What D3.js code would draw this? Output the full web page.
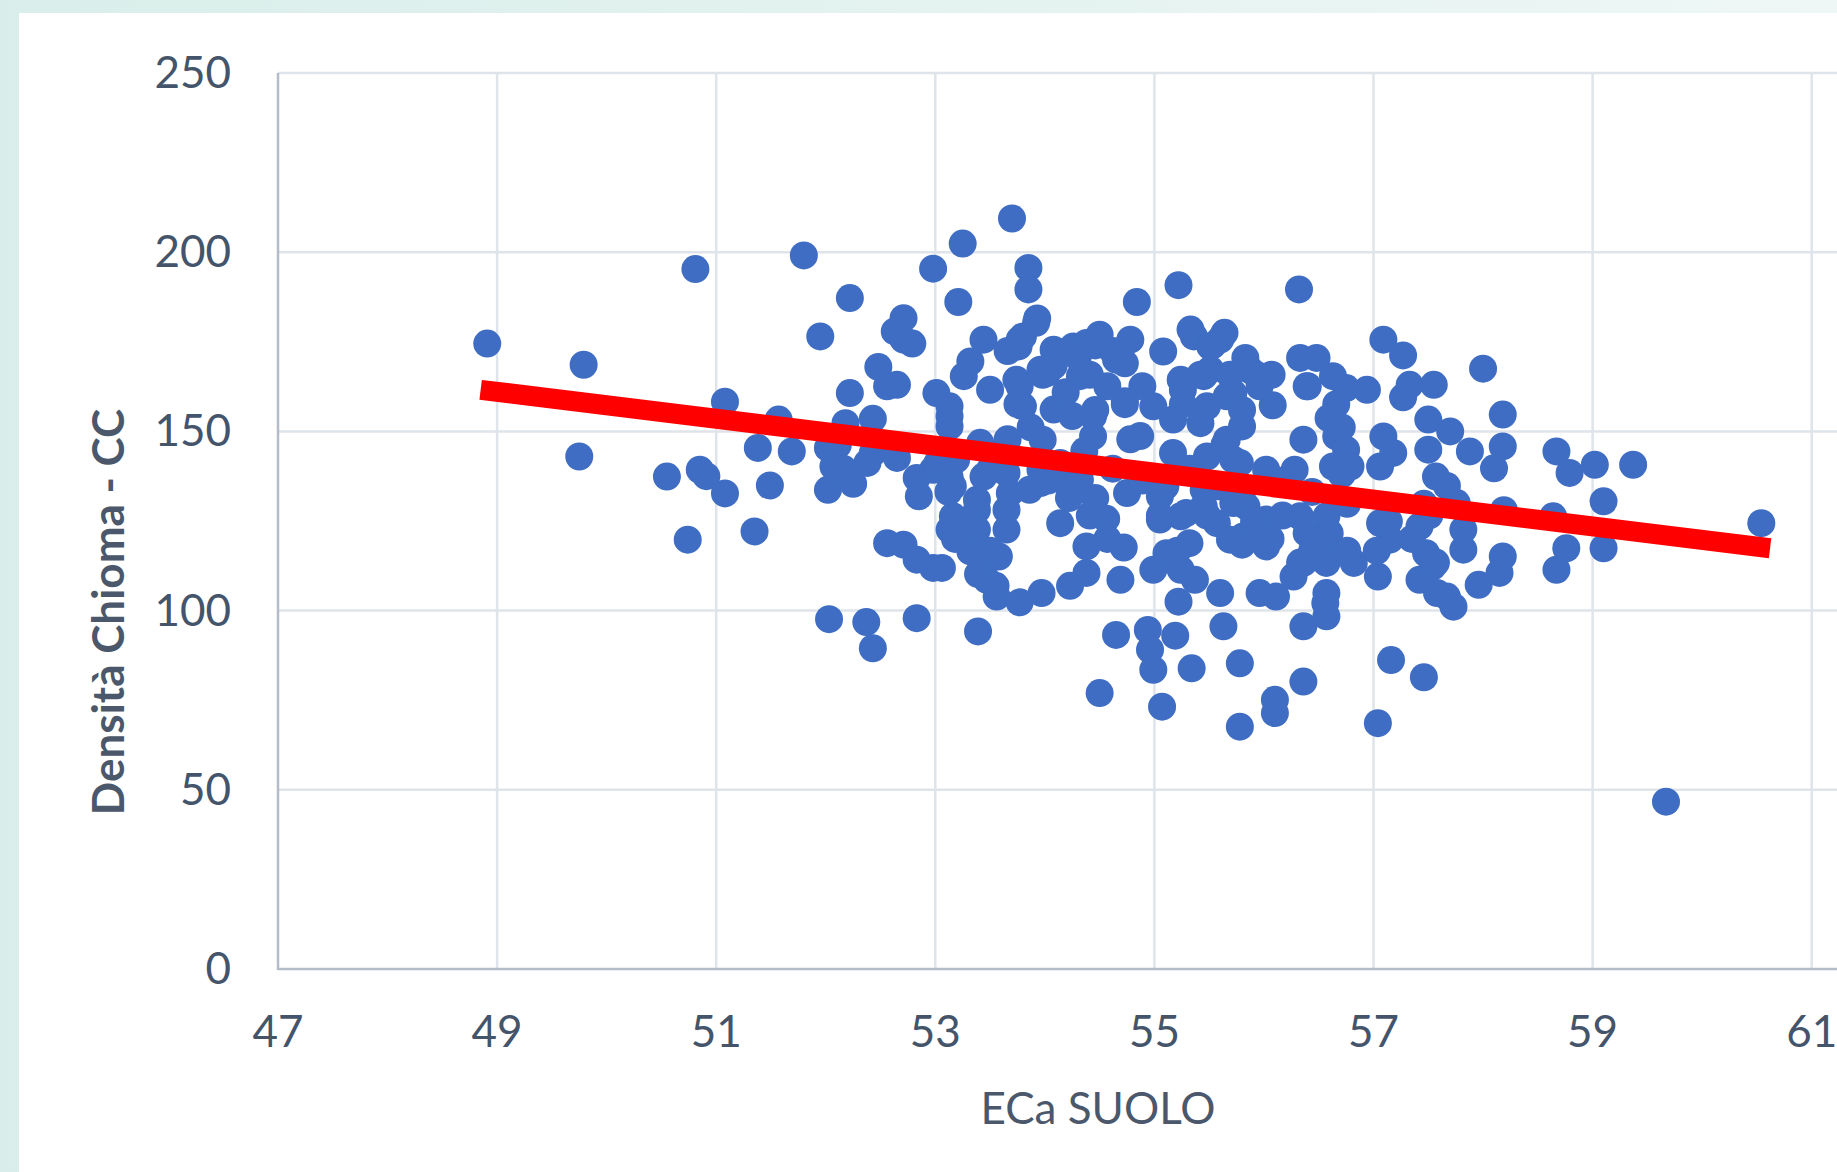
<!DOCTYPE html>
<html>
<head>
<meta charset="utf-8">
<script src="https://cdn.jsdelivr.net/npm/d3@7"></script>
<style>
  html, body { margin: 0; padding: 0; }
  body { width: 1837px; height: 1172px; overflow: hidden; }
  svg { display: block; }
  .tick-label { font-family: Lato, "Open Sans", sans-serif; font-size: 44px; fill: #44546a; }
  .axis-title { font-family: Lato, "Open Sans", sans-serif; font-size: 44px; fill: #4b586b; }
  .grid line { stroke: #dfe4eb; stroke-width: 2.5; }
  .axis-line { stroke: #b3bdca; stroke-width: 2.5; }
</style>
</head>
<body>
<svg id="chart"></svg>
<script>
// x = ECa SUOLO, y = Densità Chioma - CC
const POINTS = [
  [48.91,174.5],[49.79,168.6],[49.75,143.0],[50.55,137.4],[50.81,195.3],[50.74,119.8],[50.85,139.3],[50.91,137.5],
  [51.08,132.7],[51.08,158.3],[51.35,122.1],[51.38,145.4],[51.49,134.9],[51.57,153.3],[51.69,144.4],[51.80,199.1],
  [51.95,176.5],[52.02,145.4],[52.02,133.7],[52.03,97.6],[52.07,140.2],[52.10,139.3],[52.18,152.3],[52.22,187.2],
  [52.22,160.7],[52.25,135.4],[52.37,96.8],[52.43,89.5],[52.43,153.5],[52.43,144.0],[52.48,168.0],[52.56,162.6],
  [52.65,163.0],[52.56,118.8],[52.63,177.9],[52.65,142.6],[52.71,181.6],[52.71,175.6],[52.71,118.4],[52.79,174.5],
  [52.83,137.0],[52.83,114.2],[52.83,97.9],[52.85,131.9],[52.98,195.4],[52.98,139.3],[52.98,111.9],[53.01,160.7],
  [53.06,111.9],[53.13,154.2],[53.13,157.0],[53.13,151.4],[53.13,137.4],[53.13,122.6],[53.16,134.7],[53.16,126.3],
  [53.19,142.1],[53.21,186.1],[53.25,202.4],[53.26,165.4],[53.32,169.5],[53.32,116.5],[53.38,130.9],[53.38,128.1],
  [53.38,122.6],[53.39,94.2],[53.41,146.8],[53.44,175.6],[53.44,137.4],[53.47,108.6],[53.50,161.6],[53.50,139.3],
  [53.56,103.9],[53.58,115.1],[53.65,138.4],[53.65,128.1],[53.65,122.6],[53.68,132.8],[53.70,209.4],[53.74,164.4],
  [53.76,173.7],[53.77,162.6],[53.77,102.3],[53.80,176.5],[53.80,157.0],[53.85,195.6],[53.85,189.6],[53.86,133.7],
  [53.92,180.3],[53.96,167.2],[53.96,139.3],[53.96,135.6],[53.97,104.9],[53.98,147.7],[54.02,166.3],[54.08,172.8],
  [54.08,168.3],[54.08,156.1],[54.14,124.4],[54.20,135.6],[54.23,106.9],[54.26,173.7],[54.32,165.4],[54.32,136.5],
  [54.38,174.7],[54.38,117.9],[54.38,110.5],[54.44,154.2],[54.44,148.6],[54.50,177.0],[54.50,77.0],[54.56,125.6],
  [54.65,170.0],[54.65,93.2],[54.69,108.6],[54.72,117.6],[54.73,158.4],[54.75,132.8],[54.84,186.1],[54.87,148.7],
  [54.94,94.6],[54.96,89.1],[54.99,157.0],[54.99,111.4],[54.99,83.5],[55.05,131.9],[55.05,125.4],[55.07,73.2],
  [55.08,172.3],[55.11,116.0],[55.17,153.3],[55.17,144.0],[55.19,93.0],[55.22,190.8],[55.22,102.5],[55.24,164.4],
  [55.24,111.4],[55.24,126.3],[55.26,161.6],[55.29,127.2],[55.32,118.8],[55.33,178.4],[55.34,83.9],[55.36,176.5],
  [55.42,152.3],[55.45,165.4],[55.45,133.7],[55.45,129.1],[55.48,157.0],[55.48,143.0],[55.51,173.7],[55.51,167.2],
  [55.57,124.4],[55.60,175.6],[55.60,104.9],[55.63,95.6],[55.64,177.5],[55.66,159.8],[55.66,147.7],[55.69,119.8],
  [55.72,160.7],[55.72,142.1],[55.72,130.0],[55.78,141.2],[55.78,85.3],[55.78,67.6],[55.80,151.4],[55.81,120.7],
  [55.83,170.5],[55.84,129.1],[55.87,167.2],[55.93,165.8],[55.96,104.9],[56.02,139.3],[56.02,125.4],[56.02,117.9],
  [56.07,165.8],[56.08,157.3],[56.10,75.1],[56.10,71.4],[56.11,103.9],[56.27,109.5],[56.28,139.3],[56.32,189.6],
  [56.33,170.5],[56.33,126.3],[56.36,147.7],[56.36,113.3],[56.36,95.6],[56.36,80.2],[56.39,121.6],[56.40,162.6],
  [56.48,170.5],[56.54,117.9],[56.57,126.3],[56.57,113.3],[56.57,104.9],[56.57,98.4],[56.56,102.1],[56.59,153.7],
  [56.63,165.4],[56.63,140.2],[56.66,148.6],[56.75,162.1],[56.75,144.9],[56.79,140.2],[56.82,113.3],[56.94,161.6],
  [57.04,109.5],[57.04,68.6],[57.06,140.2],[57.06,124.4],[57.09,175.6],[57.09,148.6],[57.15,119.8],[57.16,86.2],
  [57.18,144.0],[57.27,171.2],[57.27,159.5],[57.33,163.0],[57.42,123.5],[57.42,108.6],[57.46,81.4],[57.48,116.0],
  [57.50,153.3],[57.50,144.9],[57.51,126.6],[57.54,112.3],[57.55,163.0],[57.57,137.4],[57.58,104.9],[57.67,103.9],
  [57.67,134.8],[57.70,150.0],[57.73,101.1],[57.76,130.0],[57.82,122.6],[57.82,117.0],[57.88,144.4],[57.96,107.2],
  [58.00,167.5],[58.10,139.7],[58.15,110.5],[58.18,154.7],[58.18,145.8],[58.18,115.1],[58.19,128.0],[58.64,126.3],
  [58.67,144.4],[58.67,111.4],[58.76,117.4],[58.79,138.4],[59.02,140.7],[59.10,130.5],[59.10,117.4],[59.37,140.7],
  [59.67,46.7],[60.54,124.4],
  // denser core of the cloud
  [53.93,181.5],[53.77,175.6],[53.66,172.4],[54.09,172.4],[54.30,170.7],[54.46,174.0],[54.62,172.4],[54.78,175.6],
  [54.41,165.8],[54.57,162.6],[54.73,169.0],[54.14,141.2],[54.36,144.5],[54.62,139.6],[54.89,136.3],[54.03,136.3],
  [53.98,165.8],[54.19,160.9],[54.46,156.0],[54.73,157.6],[54.25,154.3],[54.78,147.8],[55.32,139.6],[55.58,134.7],
  [55.48,126.5],[55.80,133.1],[55.64,146.2],[55.26,157.6],[55.42,165.8],[55.80,156.0],[55.96,162.6],[56.12,136.3],
  [56.17,126.5],[56.71,138.0],[56.76,129.8],[56.44,133.1],[56.60,121.6],[56.33,113.4],[56.76,116.7],[56.44,116.7],
  [53.12,133.1],[53.28,124.9],[53.18,120.0],[53.50,116.7],[53.39,110.2],[53.55,106.9],[53.02,141.2],[52.11,146.2],
  [52.38,141.2],[52.16,139.6],[57.14,124.9],[57.35,120.0],[57.46,129.8],[57.57,113.4],[57.03,116.7],[56.39,162.6],
  [56.66,157.6],[56.71,151.1],[54.41,126.5],[54.57,120.0],[55.21,116.7],[55.37,108.6],
  [53.75,157.6],[53.87,151.1],[53.66,147.8],[55.10,134.7],[55.05,126.5],[55.91,124.9],[56.06,120.0],[55.80,118.4],
  [54.22,131.4],[54.46,131.4],[55.53,174.0],[55.69,165.8],[54.89,162.6],
];

// linear trend line, end points
const TREND_LINE = [[48.85, 161.6], [60.62, 117.4]];

const X_TICKS = [47, 49, 51, 53, 55, 57, 59, 61];
const Y_TICKS = [0, 50, 100, 150, 200, 250];

const X_TITLE = "ECa SUOLO";
const Y_TITLE = "Densità Chioma - CC";

function drawChart() {
  const width = 1837;
  const height = 1172;
  const plotLeft = 278;
  const plotTop = 73;
  const plotBottom = 969;
  const unitPx = 109.55;

  const svg = d3.select("#chart").attr("width", width).attr("height", height);

  // page background + white card
  const defs = svg.append("defs");
  const grad = defs.append("linearGradient").attr("id", "bg").attr("x1", 0).attr("x2", 1).attr("y1", 0).attr("y2", 0);
  grad.append("stop").attr("offset", "0%").attr("stop-color", "#d9eeea");
  grad.append("stop").attr("offset", "100%").attr("stop-color", "#eef7f5");
  svg.append("rect").attr("width", width).attr("height", height).attr("fill", "url(#bg)");
  svg.append("rect").attr("x", 19).attr("y", 13).attr("width", width - 19).attr("height", height - 13).attr("fill", "#fff");

  // domain runs past 61: the reference is cropped at its right edge
  const x = d3.scaleLinear().domain([47, 63]).range([plotLeft, plotLeft + 16 * unitPx]);
  const y = d3.scaleLinear().domain([0, 250]).range([plotBottom, plotTop]);

  // gridlines
  const grid = svg.append("g").attr("class", "grid");
  grid.selectAll("line.h").data(Y_TICKS.filter((d) => d > 0)).join("line")
    .attr("class", "h")
    .attr("x1", plotLeft).attr("x2", width)
    .attr("y1", (d) => y(d)).attr("y2", (d) => y(d));
  grid.selectAll("line.v").data(X_TICKS.filter((d) => d > 47)).join("line")
    .attr("class", "v")
    .attr("x1", (d) => x(d)).attr("x2", (d) => x(d))
    .attr("y1", plotTop).attr("y2", plotBottom);

  // axis lines
  svg.append("line").attr("class", "axis-line")
    .attr("x1", plotLeft).attr("x2", plotLeft).attr("y1", plotTop).attr("y2", plotBottom + 1);
  svg.append("line").attr("class", "axis-line")
    .attr("x1", plotLeft).attr("x2", width).attr("y1", plotBottom).attr("y2", plotBottom);

  // tick labels
  svg.append("g").selectAll("text").data(X_TICKS).join("text")
    .attr("class", "tick-label")
    .attr("x", (d) => x(d)).attr("y", plotBottom + 78)
    .attr("text-anchor", "middle")
    .text((d) => d);
  svg.append("g").selectAll("text").data(Y_TICKS).join("text")
    .attr("class", "tick-label")
    .attr("x", 231).attr("y", (d) => y(d) + 15)
    .attr("text-anchor", "end")
    .text((d) => d);

  // axis titles
  svg.append("text").attr("class", "axis-title")
    .attr("x", 1098).attr("y", 1124)
    .attr("text-anchor", "middle")
    .text(X_TITLE);
  svg.append("text").attr("class", "axis-title")
    .attr("transform", "translate(124,612) rotate(-90)")
    .attr("text-anchor", "middle")
    .attr("font-weight", "bold")
    .text(Y_TITLE);

  // points
  svg.append("g").selectAll("circle").data(POINTS).join("circle")
    .attr("cx", (d) => x(d[0]))
    .attr("cy", (d) => y(d[1]))
    .attr("r", 14)
    .attr("fill", "#3e6dc3");

  // trend line
  svg.append("line")
    .attr("x1", x(TREND_LINE[0][0])).attr("y1", y(TREND_LINE[0][1]))
    .attr("x2", x(TREND_LINE[1][0])).attr("y2", y(TREND_LINE[1][1]))
    .attr("stroke", "#ff0000")
    .attr("stroke-width", 20)
    .attr("stroke-linecap", "butt");
}

drawChart();
</script>
</body>
</html>
